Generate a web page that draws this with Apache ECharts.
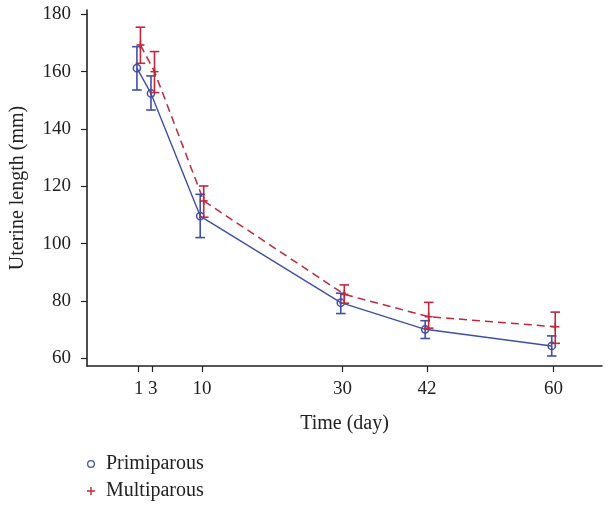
<!DOCTYPE html>
<html>
<head>
<meta charset="utf-8">
<script src="https://cdn.jsdelivr.net/npm/echarts@6/dist/echarts.min.js"></script>
<style>
html,body{margin:0;padding:0;background:#fff;}
#chart{width:608px;height:505px;}
</style>
</head>
<body>
<div id="chart"></div>
<script>
// Data
var days = [1, 3, 10, 30, 42, 60];
var xTicks = [1, 3, 10, 30, 42, 60];
var yTicks = [60, 80, 100, 120, 140, 160, 180];
var primiMean = [161.2, 152.4, 109.6, 79.4, 70.1, 64.3];
var primiLow  = [153.6, 146.6, 102.1, 75.6, 66.9, 60.8];
var primiHigh = [168.7, 158.5, 117.2, 82.7, 73.1, 67.8];
var multiMean = [169.3, 160.0, 114.9, 82.3, 74.5, 71.0];
var multiLow  = [162.9, 152.7, 109.2, 79.2, 70.5, 65.2];
var multiHigh = [175.5, 167.0, 120.1, 85.6, 79.5, 76.1];
var dodge = 0.25;

var BLUE = '#3f4fa8';
var RED = '#c0283c';
var FONT = 'Liberation Serif';

function pts(mean, off) {
  return days.map(function (d, i) { return [d + off, mean[i]]; });
}
function bars(mean, low, high, off) {
  return days.map(function (d, i) { return [d + off, mean[i], low[i], high[i]]; });
}

function errRender(color, marker) {
  return function (params, api) {
    var x = api.value(0);
    var pm = api.coord([x, api.value(1)]);
    var pl = api.coord([x, api.value(2)]);
    var ph = api.coord([x, api.value(3)]);
    var hw = 4.8;
    var st = { stroke: color, lineWidth: 1.6 };
    var children = [
      { type: 'line', shape: { x1: pl[0], y1: pl[1], x2: ph[0], y2: ph[1] }, style: st },
      { type: 'line', shape: { x1: pl[0] - hw, y1: pl[1], x2: pl[0] + hw, y2: pl[1] }, style: st },
      { type: 'line', shape: { x1: ph[0] - hw, y1: ph[1], x2: ph[0] + hw, y2: ph[1] }, style: st }
    ];
    if (marker === 'circle') {
      children.push({ type: 'circle', shape: { cx: pm[0], cy: pm[1], r: 3.6 }, style: { fill: 'none', stroke: color, lineWidth: 1.5 } });
    } else {
      var s = 4;
      children.push({ type: 'line', shape: { x1: pm[0] - s, y1: pm[1], x2: pm[0] + s, y2: pm[1] }, style: st });
      children.push({ type: 'line', shape: { x1: pm[0], y1: pm[1] - s, x2: pm[0], y2: pm[1] + s }, style: st });
    }
    return { type: 'group', children: children };
  };
}

var chart = echarts.init(document.getElementById('chart'), null, { renderer: 'canvas' });
chart.setOption({
  animation: false,
  backgroundColor: '#fff',
  textStyle: { fontFamily: FONT },
  grid: { left: 87, right: 6, top: 10, bottom: 139, containLabel: false },
  xAxis: {
    type: 'value',
    min: -6.35,
    max: 66.9,
    name: 'Time (day)',
    nameLocation: 'middle',
    nameGap: 48,
    nameTextStyle: { fontFamily: FONT, fontSize: 20, color: '#222' },
    axisLine: { show: true, onZero: false, lineStyle: { color: '#222', width: 1.6 } },
    axisTick: { show: true, length: 6, lineStyle: { color: '#222', width: 1.2 }, customValues: xTicks },
    axisLabel: { fontFamily: FONT, fontSize: 19, color: '#222', margin: 14, customValues: xTicks },
    splitLine: { show: false }
  },
  yAxis: {
    type: 'value',
    min: 57.3,
    max: 181.5,
    name: 'Uterine length (mm)',
    nameLocation: 'middle',
    nameGap: 59,
    nameRotate: 90,
    nameTextStyle: { fontFamily: FONT, fontSize: 20, color: '#222' },
    axisLine: { show: true, onZero: false, lineStyle: { color: '#222', width: 1.6 } },
    axisTick: { show: true, length: 6, lineStyle: { color: '#222', width: 1.2 }, customValues: yTicks },
    axisLabel: { fontFamily: FONT, fontSize: 19, color: '#222', margin: 16, customValues: yTicks },
    splitLine: { show: false }
  },
  legend: {
    orient: 'vertical',
    left: 87,
    top: 454,
    padding: 0,
    itemWidth: 8,
    itemHeight: 8,
    itemGap: 7,
    textStyle: { fontFamily: FONT, fontSize: 20, color: '#222', padding: [0, 0, 0, 6] },
    data: [
      { name: 'Primiparous', icon: 'path://M5,0A5,5,0,1,1,4.99,0ZM5,1.6A3.4,3.4,0,1,0,5.01,1.6Z', itemStyle: { color: BLUE } },
      { name: 'Multiparous', icon: 'path://M4.1,0H5.9V4.1H10V5.9H5.9V10H4.1V5.9H0V4.1H4.1Z', itemStyle: { color: RED } }
    ]
  },
  series: [
    {
      name: 'Primiparous',
      type: 'line',
      data: pts(primiMean, -dodge),
      symbol: 'none',
      lineStyle: { color: BLUE, width: 1.4, type: 'solid' },
      itemStyle: { color: BLUE },
      z: 2
    },
    {
      name: 'Multiparous',
      type: 'line',
      data: pts(multiMean, dodge),
      symbol: 'none',
      lineStyle: { color: RED, width: 1.5, type: [8, 5] },
      itemStyle: { color: RED },
      z: 2
    },
    {
      name: 'Primiparous',
      type: 'custom',
      renderItem: errRender(BLUE, 'circle'),
      data: bars(primiMean, primiLow, primiHigh, -dodge),
      itemStyle: { color: BLUE },
      z: 3
    },
    {
      name: 'Multiparous',
      type: 'custom',
      renderItem: errRender(RED, 'plus'),
      data: bars(multiMean, multiLow, multiHigh, dodge),
      itemStyle: { color: RED },
      z: 3
    }
  ]
});
</script>
</body>
</html>
